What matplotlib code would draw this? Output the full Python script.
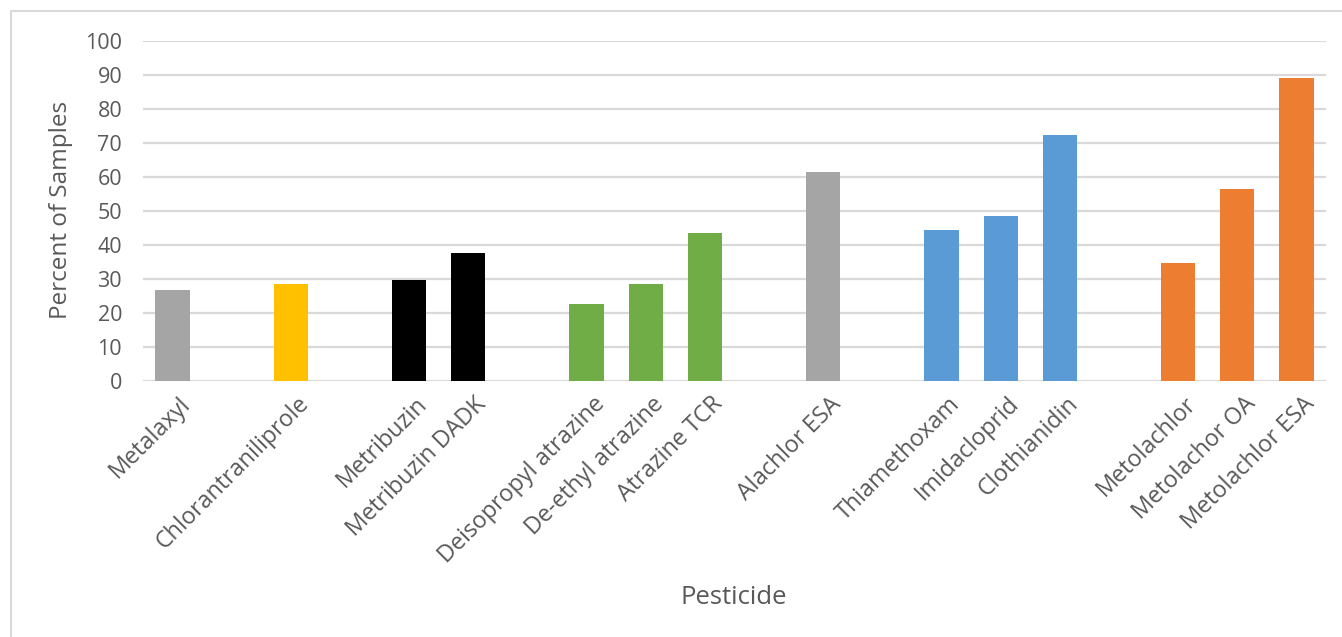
import matplotlib.pyplot as plt
import matplotlib.transforms as mtransforms
from matplotlib.lines import Line2D

# slots with '' are empty gaps between pesticide groups
pesticides = ['Metalaxyl', '', 'Chlorantraniliprole', '', 'Metribuzin', 'Metribuzin DADK', '',
              'Deisopropyl atrazine', 'De-ethyl atrazine', 'Atrazine TCR', '', 'Alachlor ESA', '',
              'Thiamethoxam', 'Imidacloprid', 'Clothianidin', '',
              'Metolachlor', 'Metolachor OA', 'Metolachlor ESA']
percent = [26.8, 0, 28.5, 0, 29.7, 37.6, 0,
           22.7, 28.5, 43.5, 0, 61.4, 0,
           44.4, 48.5, 72.3, 0,
           34.7, 56.4, 89.1]
colors = ['#A5A5A5', 'none', '#FFC000', 'none', '#000000', '#000000', 'none',
          '#70AD47', '#70AD47', '#70AD47', 'none', '#A5A5A5', 'none',
          '#5B9BD5', '#5B9BD5', '#5B9BD5', 'none',
          '#ED7D31', '#ED7D31', '#ED7D31']

plt.rcParams['font.family'] = ['Open Sans', 'DejaVu Sans']
txt = '#595959'

W, H = 1342, 637
fig = plt.figure(figsize=(W / 100, H / 100), dpi=100)
ax = fig.add_axes([143 / W, (H - 381) / H, (1326 - 143) / W, 340 / H])

x = list(range(len(pesticides)))
for i, (v, c) in enumerate(zip(percent, colors)):
    if v > 0:
        ax.bar(i, v, width=0.58, color=c, zorder=3)

ax.set_xlim(-0.5, len(pesticides) - 0.5)
ax.set_ylim(0, 100)
ax.set_yticks(range(0, 101, 10))
ax.grid(axis='y', color='#D9D9D9', linewidth=1.6, zorder=0)
for s in ax.spines.values():
    s.set_visible(False)
ax.tick_params(axis='y', length=0, pad=15, labelsize=15.5, labelcolor=txt)
ax.tick_params(axis='x', length=0, pad=8, labelsize=16.8, labelcolor=txt)

ax.set_xticks(x)
ax.set_xticklabels(pesticides, rotation=45, ha='right', va='top', rotation_mode='anchor')
nudge = mtransforms.ScaledTranslation(6 / 100, 0, fig.dpi_scale_trans)
for lbl in ax.get_xticklabels():
    lbl.set_transform(lbl.get_transform() + nudge)

fig.text(61 / W, 1 - 210 / H, 'Percent of Samples', rotation=90, ha='center', va='center',
         fontsize=17.5, color=txt)
fig.text(734 / W, 1 - 597 / H, 'Pesticide', ha='center', va='center', fontsize=18.5, color=txt)

# light frame around the chart area (top and left edges)
fig.add_artist(Line2D([11 / W, 11 / W, 1], [0, 1 - 11 / H, 1 - 11 / H],
                      transform=fig.transFigure, color='#D9D9D9', linewidth=1.5))

fig.savefig('out.png', dpi=100)
